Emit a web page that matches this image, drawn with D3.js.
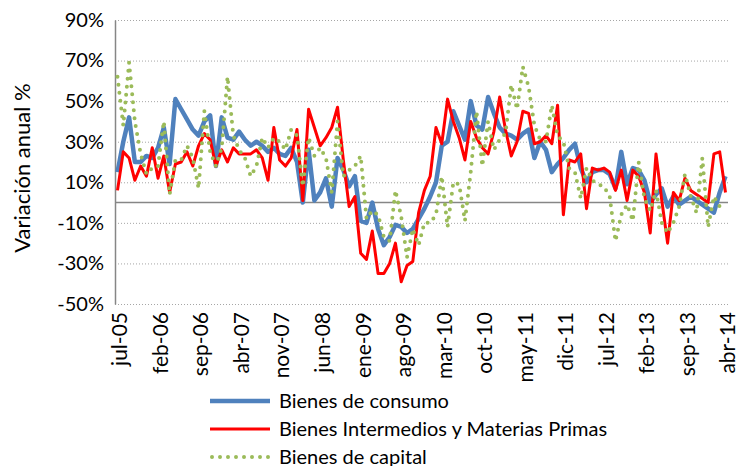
<!DOCTYPE html>
<html>
<head>
<meta charset="utf-8">
<script src="https://cdn.jsdelivr.net/npm/d3@7"></script>
<style>
  body { margin: 0; background: #fff; }
  text { font-family: Lato, "Open Sans", sans-serif; fill: #000; }
</style>
</head>
<body>
<div id="chart"></div>
<script>
var width = 740,
height = 466;

// months jul-05 .. abr-14
var monthNames = ["ene","feb","mar","abr","may","jun","jul","ago","sep","oct","nov","dic"];
var startMonth = 6, startYear = 2005, nMonths = 106;

var tickLabels = ["jul-05","feb-06","sep-06","abr-07","nov-07","jun-08","ene-09","ago-09",
  "mar-10","oct-10","may-11","dic-11","jul-12","feb-13","sep-13","abr-14"];

var yTicks = [90, 70, 50, 30, 10, -10, -30, -50];

var seriesNames = ["Bienes de consumo", "Bienes Intermedios y Materias Primas", "Bienes de capital"];

// variación anual %
var consumo = [15, 30, 42, 20, 20, 23, 22, 27, 37, 19, 51, 46, 41, 36, 33,
  40, 43, 18, 42, 32, 31, 35, 31, 28, 30, 28, 25, 27, 24, 23, 27,
  20, 0, 26, 1, 5, 12, -2, 22, 16, 8, 13, -9, -10, 0, -13,
  -21, -17, -11, -12, -15, -13, -8, -3, 3, 10, 28, 30, 45, 38, 31,
  50, 38, 36, 52, 44, 37, 34, 33, 31, 34, 36, 22, 30, 26, 15,
  19, 22, 26, 29, 17, 10, 15, 16, 16, 14, 7, 25, 9, 17, 16,
  11, 0, 4, 7, -2, 3, -1, 1, 3, 1, -1, -3, -5, 5, 13];

var intermedios = [6, 25, 22, 11, 18, 13, 27, 12, 23, 5, 19, 20, 25, 18, 28,
  34, 31, 18, 26, 20, 27, 24, 24, 24, 26, 22, 11, 37, 21, 18, 22,
  36, 1, 46, 37, 28, 32, 37, 47, 21, -2, 3, -25, -28, -14, -35,
  -35, -30, -20, -39, -31, -29, -5, 6, 13, 37, 29, 51, 40, 32, 21,
  40, 32, 27, 24, 35, 52, 36, 23, 30, 45, 44, 29, 30, 33, 29,
  48, -6, 21, 20, 24, -3, 17, 16, 17, 15, 6, 16, 1, 16, 13,
  5, -15, 24, 1, -20, 5, 1, 12, 6, 4, 2, 0, 24, 25, 5];

var capital = [62, 38, 69, 40, 24, 14, 17, 18, 40, 4, 21, 21, 28, 22, 7,
  45, 25, 18, 27, 62, 33, 26, 22, 13, 18, 32, 27, 32, 30, 26, 36,
  33, 8, 32, 23, 27, 22, 5, 40, 13, 16, 18, 23, -8, -4, -6,
  -17, -19, 6, -7, -27, -13, -21, -10, -10, -6, 13, -12, 10, 9, -9,
  15, 45, 18, 40, 26, 31, 34, 58, 46, 67, 57, 38, 31, 30, 48,
  33, 30, 17, 15, 2, 17, 11, 9, 8, 3, -19, -6, -1, -9, 20,
  2, -4, 6, -10, -15, -10, -2, 14, 3, -5, 22, -12, 3, -2, -4];

var months = d3.range(nMonths).map(function(i) {
  var m = (startMonth + i) % 12,
  y = startYear + Math.floor((startMonth + i) / 12);
  return monthNames[m] + "-" + String(y).slice(2);
});

var plot = {left: 115, right: 728, top: 20, bottom: 304};

var svg = d3.select("#chart").append("svg")
.attr("width", width)
.attr("height", height);

var x = d3.scalePoint()
.domain(months)
.range([plot.left + 2.5, plot.right - 2.5]);

var y = d3.scaleLinear()
.domain([-50, 90])
.range([plot.bottom, plot.top]);

// gridlines
svg.append("g")
.selectAll("line")
.data(yTicks)
.enter().append("line")
.attr("x1", plot.left)
.attr("x2", plot.right)
.attr("y1", function(d){return y(d) + 0.5})
.attr("y2", function(d){return y(d) + 0.5})
.attr("stroke", "#a6a6a6")
.attr("stroke-width", 1)
.attr("stroke-dasharray", "1 2");

// y axis
var yAxis = d3.axisLeft(y)
.tickValues(yTicks)
.tickSize(0)
.tickPadding(11)
.tickFormat(function(d){return d + "%"});

var gy = svg.append("g")
.attr("transform", "translate(" + plot.left + ",0)")
.call(yAxis);
gy.select(".domain").attr("stroke", "#868686").attr("stroke-width", 1.5);
gy.selectAll("text").style("font-size", "20px").attr("fill", "#000");

// zero line (category axis)
svg.append("line")
.attr("x1", plot.left)
.attr("x2", plot.right)
.attr("y1", y(0))
.attr("y2", y(0))
.attr("stroke", "#868686")
.attr("stroke-width", 1.5);

// x labels, below the plot
var xAxis = d3.axisBottom(x)
.tickValues(tickLabels)
.tickSize(0)
.tickPadding(0);

var gx = svg.append("g")
.attr("transform", "translate(2," + (plot.bottom + 8) + ")")
.call(xAxis);
gx.select(".domain").remove();
gx.selectAll("text")
.style("font-size", "21px")
.attr("text-anchor", "end")
.attr("transform", "rotate(-90)")
.attr("x", 0)
.attr("y", 0)
.attr("dx", 0)
.attr("dy", "0.35em");

// y title
svg.append("text")
.attr("transform", "translate(30," + ((plot.top + plot.bottom) / 2 + 6) + ") rotate(-90)")
.attr("text-anchor", "middle")
.style("font-size", "22px")
.text("Variación anual %");

var series = [
  {name: seriesNames[0], values: consumo, color: "#4f81bd", width: 4.5, dash: null, cap: "butt"},
  {name: seriesNames[1], values: intermedios, color: "#ff0000", width: 3, dash: null, cap: "butt"},
  {name: seriesNames[2], values: capital, color: "#9bbb59", width: 4, dash: "0 8", cap: "round"}
];

var line = d3.line()
.x(function(d, i){return x(months[i])})
.y(function(d){return y(d)});

svg.append("g")
.selectAll("path")
.data(series)
.enter().append("path")
.attr("d", function(d){return line(d.values)})
.attr("fill", "none")
.attr("stroke", function(d){return d.color})
.attr("stroke-width", function(d){return d.width})
.attr("stroke-linejoin", "round")
.attr("stroke-linecap", function(d){return d.cap})
.attr("stroke-dasharray", function(d){return d.dash});

// legend
var legend = svg.append("g")
.selectAll("g")
.data(series)
.enter().append("g")
.attr("transform", function(d, i){return "translate(210," + (401 + i * 28) + ")"});

legend.append("line")
.attr("x1", function(d){return d.dash ? 2 : 0})
.attr("x2", 60)
.attr("stroke", function(d){return d.color})
.attr("stroke-width", function(d){return d.width})
.attr("stroke-linecap", function(d){return d.cap})
.attr("stroke-dasharray", function(d){return d.dash});

legend.append("text")
.attr("x", 69)
.attr("dy", "0.35em")
.style("font-size", "20px")
.text(function(d){return d.name});
</script>
</body>
</html>
